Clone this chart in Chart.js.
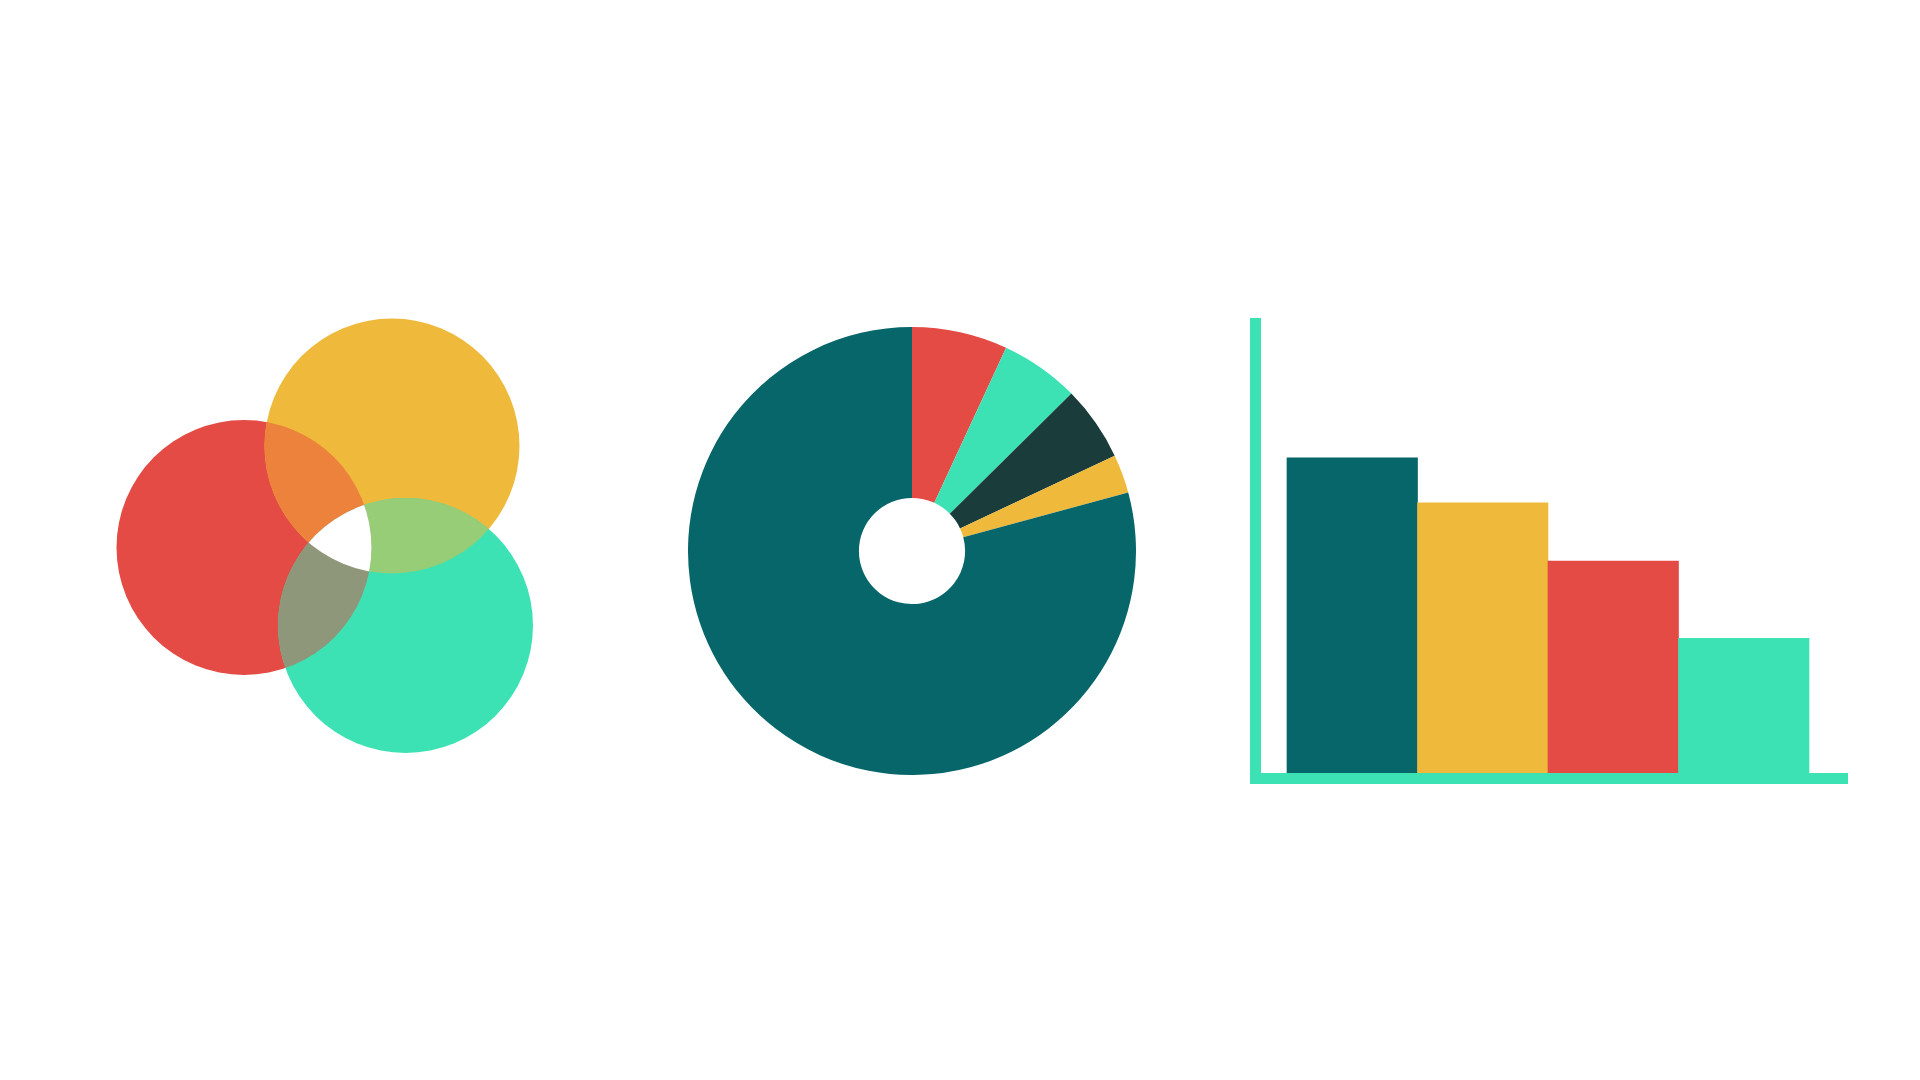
<!DOCTYPE html>
<html>
<head>
<meta charset="utf-8">
<script src="https://cdn.jsdelivr.net/npm/chart.js@4.4.1/dist/chart.umd.min.js"></script>
<style>
  html, body { margin: 0; padding: 0; background: #ffffff; width: 1920px; height: 1080px; overflow: hidden; font-family: "Noto Sans", sans-serif; }
  canvas { position: absolute; display: block; }
  #venn { left: 100px; top: 290px; }
  #donut { left: 688px; top: 327px; }
  #bars { left: 1230px; top: 300px; }
</style>
</head>
<body>
<canvas id="venn" width="460" height="490"></canvas>
<canvas id="donut" width="448" height="448"></canvas>
<canvas id="bars" width="640" height="500"></canvas>
<script>
// ---------- Venn (bubble) data ----------
const vennSets = ['A', 'B', 'C'];
const vennX = [144, 292, 305.5];
const vennY = [257.5, 156, 335.5];
const vennR = [127.5, 127.5, 127.5];
const vennColors = ['#E34B44', '#EFB93B', '#3DE2B4'];
const vennPairs = [[0, 1], [1, 2], [0, 2]];
const vennPairColors = ['#EC823C', '#96CD76', '#8F977A'];
const vennTripleColor = '#FFFFFF';

// ---------- Doughnut data ----------
const pieLabels = ['Red', 'Aqua', 'Dark', 'Yellow', 'Teal'];
const pieValues = [6.9, 5.7, 5.4, 2.8, 79.2];
const pieColors = ['#E34B44', '#3DE2B4', '#1A3D3B', '#EFB93B', '#07666A'];

// ---------- Bar data ----------
const barCategories = [1, 2, 3, 4];
const barValues = [70.5, 60.6, 47.8, 30.8];
const barColors = ['#07666A', '#EFB93B', '#E34B44', '#3DE2B4'];
const axisColor = '#3DE2B4';

Chart.defaults.animation = false;
Chart.defaults.responsive = false;
Chart.defaults.devicePixelRatio = 1;
Chart.defaults.plugins.legend.display = false;
Chart.defaults.plugins.tooltip.enabled = false;

// Overlap plugin: paints pairwise / triple intersections of the bubbles
const vennOverlap = {
  id: 'vennOverlap',
  afterDatasetsDraw(chart) {
    const pts = chart.getDatasetMeta(0).data;
    const ctx = chart.ctx;
    const circ = (p) => { ctx.beginPath(); ctx.arc(p.x, p.y, p.options.radius, 0, Math.PI * 2); };
    vennPairs.forEach(([a, b], k) => {
      ctx.save();
      circ(pts[a]); ctx.clip();
      circ(pts[b]); ctx.fillStyle = vennPairColors[k]; ctx.fill();
      ctx.restore();
    });
    ctx.save();
    circ(pts[0]); ctx.clip();
    circ(pts[1]); ctx.clip();
    circ(pts[2]); ctx.fillStyle = vennTripleColor; ctx.fill();
    ctx.restore();
  }
};

new Chart(document.getElementById('venn'), {
  type: 'bubble',
  data: {
    labels: vennSets,
    datasets: [{
      data: vennSets.map((s, i) => ({ x: vennX[i], y: vennY[i], r: vennR[i] })),
      backgroundColor: vennColors,
      borderWidth: 0,
      hoverBorderWidth: 0,
      clip: false
    }]
  },
  options: {
    layout: { padding: 0, autoPadding: false },
    events: [],
    scales: {
      x: { type: 'linear', display: false, min: 0, max: 460 },
      y: { type: 'linear', display: false, min: 0, max: 490, reverse: true }
    }
  },
  plugins: [vennOverlap]
});

new Chart(document.getElementById('donut'), {
  type: 'doughnut',
  data: {
    labels: pieLabels,
    datasets: [{
      data: pieValues,
      backgroundColor: pieColors,
      borderWidth: 0,
      hoverOffset: 0
    }]
  },
  options: {
    cutout: '23.7%',
    rotation: 0,
    layout: { padding: 0 },
    events: []
  }
});

new Chart(document.getElementById('bars'), {
  type: 'bar',
  data: {
    datasets: [{
      data: barCategories.map((c, i) => ({ x: c, y: barValues[i] })),
      backgroundColor: barColors,
      borderWidth: 0,
      categoryPercentage: 1,
      barPercentage: 1
    }]
  },
  options: {
    events: [],
    layout: { padding: { left: 25.5, top: 23.5, right: 23, bottom: 21.5 }, autoPadding: false },
    scales: {
      x: {
        type: 'linear',
        offset: false,
        min: 0.2586,
        max: 4.7912,
        afterBuildTicks: (s) => { s.ticks = barCategories.map(v => ({ value: v })); },
        afterFit: (s) => { s.height = 0; },
        ticks: { display: false },
        grid: { display: false, drawTicks: false, offset: false },
        border: { display: true, color: axisColor, width: 11, z: 1 }
      },
      y: {
        type: 'linear',
        min: 0,
        max: 100,
        afterFit: (s) => { s.width = 0; },
        ticks: { display: false },
        grid: { display: false, drawTicks: false },
        border: { display: true, color: axisColor, width: 11, z: 1 }
      }
    }
  }
});
</script>
</body>
</html>
